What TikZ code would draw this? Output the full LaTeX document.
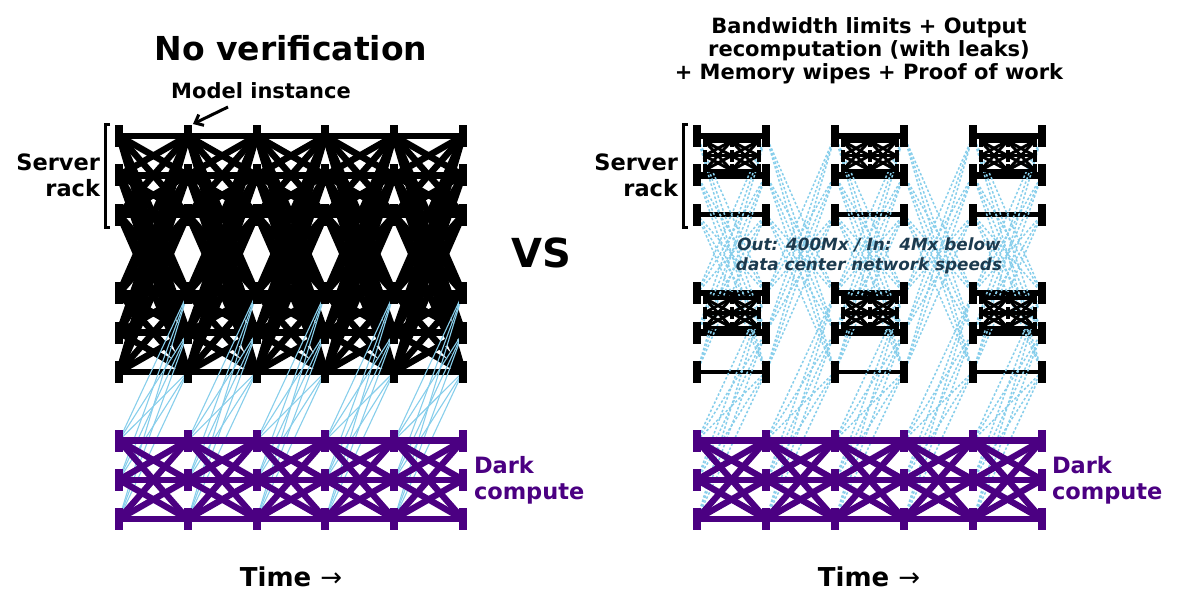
\documentclass[tikz,border=0pt]{standalone}
\usepackage{fontspec}
\setmainfont{DejaVu Sans}
\usetikzlibrary{arrows.meta}
\definecolor{pur}{HTML}{4B0082}
\definecolor{sky}{HTML}{87CEEB}
\definecolor{slate}{HTML}{1C3A4E}
\pgfdeclarelayer{lblack}
\pgfdeclarelayer{lblue}
\pgfdeclarelayer{lmini}
\pgfdeclarelayer{lpurple}
\pgfsetlayers{lblack,lblue,lmini,lpurple,main}
\begin{document}
\begin{tikzpicture}[x=1pt,y=-1pt,
  bar/.style={fill=black,inner sep=0pt,outer sep=0pt,minimum width=8pt,minimum height=22pt},
  pbar/.style={bar,fill=pur},
  mbar/.style={fill=black,inner sep=0pt,outer sep=0pt,minimum width=4pt,minimum height=12pt},
  blkline/.style={line width=6.5pt,black},
  purline/.style={line width=6.3pt,pur},
  thickh/.style={line width=6.5pt,black},
  midh/.style={line width=4.5pt,black},
  minih/.style={line width=3.5pt,black},
  minid/.style={line width=3pt,black},
  leak/.style={line width=1.1pt,sky},
  leakd/.style={line width=1.5pt,sky,dash pattern=on 2.5pt off 2pt},
  bracket/.style={line width=3pt,black},
  lbl/.style={inner sep=0pt,outer sep=0pt},
]
\useasboundingbox (0,0) rectangle (1179,605);

% nodes (bars)
\foreach \i in {0,...,5}{
  \foreach \y [count=\j] in {136,175.3,214.6,293.2,332.5,371.8}{
    \node[bar] (L\i-\j) at ({119+68.8*\i},\y) {};
    \node[bar] (R\i-\j) at ({697+69*\i},\y) {};
  }
  \foreach \y [count=\j] in {440.5,479.8,519.1}{
    \node[pbar] (LP\i-\j) at ({119+68.8*\i},\y) {};
    \node[pbar] (RP\i-\j) at ({697+69*\i},\y) {};
  }
}
% mini networks inside the right boxes
\foreach \b in {0,1,2}{
  \foreach \k/\base in {0/136,1/293.2}{
    \foreach \s/\dx in {0/7.5,1/34.5,2/61.5}{
      \foreach \m/\dy in {1/5,2/19.65,3/34.3}{
        \node[mbar] (M\b-\k-\s-\m) at ({697+138*\b+\dx},{\base+\dy}) {};
      }
    }
  }
}

% black connections
\begin{pgfonlayer}{lblack}
\foreach \i in {0,...,4}{
  \pgfmathtruncatemacro\k{\i+1}
  \foreach \a in {1,...,6}{\foreach \c in {1,...,6}{
    \draw[blkline] (L\i-\a.center) -- (L\k-\c.center);}}
}
\foreach \b in {0,1,2}{
  \pgfmathtruncatemacro\A{2*\b}
  \pgfmathtruncatemacro\B{2*\b+1}
  \foreach \r in {1,2,4,5}{\draw[thickh] (R\A-\r.center) -- (R\B-\r.center);}
  \foreach \r in {3,6}{\draw[midh] (R\A-\r.center) -- (R\B-\r.center);}
}
\end{pgfonlayer}

\begin{pgfonlayer}{lmini}
\foreach \b in {0,1,2}{
  \foreach \k in {0,1}{
    \foreach \m in {1,2,3}{\draw[minih] (M\b-\k-0-\m.center) -- (M\b-\k-2-\m.center);}
    \foreach \s in {0,1}{
      \pgfmathtruncatemacro\t{\s+1}
      \foreach \m in {1,2,3}{\foreach \n in {1,2,3}{
        \ifnum\m=\n\else\draw[minid] (M\b-\k-\s-\m.center) -- (M\b-\k-\t-\n.center);\fi
      }}
    }
  }
}
\end{pgfonlayer}

% leaks
\begin{pgfonlayer}{lblue}
\foreach \i in {0,...,4}{
  \pgfmathtruncatemacro\k{\i+1}
  \foreach \p in {1,2,3}{\foreach \c in {4,5,6}{
    \draw[leak] (LP\i-\p.center) -- (L\k-\c.center);
    \draw[leakd] (RP\i-\p.center) -- (R\k-\c.center);}}
  \foreach \a in {1,2,3}{\foreach \c in {4,5,6}{
    \draw[leakd] (R\i-\a.center) -- (R\k-\c.center);
    \draw[leakd] (R\i-\c.center) -- (R\k-\a.center);}}
}
\end{pgfonlayer}

% dark compute connections
\begin{pgfonlayer}{lpurple}
\foreach \i in {0,...,4}{
  \pgfmathtruncatemacro\k{\i+1}
  \foreach \a in {1,2,3}{\foreach \c in {1,2,3}{
    \draw[purline] (LP\i-\a.center) -- (LP\k-\c.center);
    \draw[purline] (RP\i-\a.center) -- (RP\k-\c.center);}}
}
\end{pgfonlayer}

% texts
\node[lbl,font=\fontsize{33}{40}\selectfont\bfseries] (t1) at (291,48) {No verification};
\node[lbl,font=\fontsize{21}{25}\selectfont\bfseries] (mi) at (261,91) {Model instance};
\coordinate (arS) at (228,107);
\coordinate (arE) at (193,124);
\draw[line width=3pt,-{Straight Barb[length=7pt,width=12pt]}] (arS) -- (arE);

\node[lbl,font=\fontsize{22.5}{26}\selectfont\bfseries,align=right,anchor=east] (sr1) at (100,175) {Server\\rack};
\coordinate (br1t) at (110,124);
\coordinate (br1b) at (110,227);
\draw[bracket] (br1t) -- ++(-5,0) |- (br1b);

\node[lbl,font=\fontsize{22.5}{26}\selectfont\bfseries,align=right,anchor=east] (sr2) at (678,175) {Server\\rack};
\coordinate (br2t) at (688,124);
\coordinate (br2b) at (688,227);
\draw[bracket] (br2t) -- ++(-5,0) |- (br2b);

\node[lbl,font=\fontsize{40}{48}\selectfont\bfseries] (vs) at (541,253) {VS};

\node[lbl,align=center,font=\fontsize{21}{23}\selectfont\bfseries] (t2) at (869,51) {Bandwidth limits + Output\\recomputation (with leaks)\\+ Memory wipes + Proof of work};

\node[lbl,align=center,text=slate,font=\fontsize{16.8}{20}\selectfont\bfseries\itshape] (bw) at (869,256) {Out: 400Mx / In: 4Mx below\\data center network speeds};

\node[lbl,align=left,anchor=west,text=pur,font=\fontsize{22.5}{26}\selectfont\bfseries] (dc1) at (474,480) {Dark\\compute};
\node[lbl,align=left,anchor=west,text=pur,font=\fontsize{22.5}{26}\selectfont\bfseries] (dc2) at (1052,480) {Dark\\compute};

\node[lbl,font=\fontsize{26}{30}\selectfont\bfseries] (tm1) at (291,577) {Time {\mdseries →}};
\node[lbl,font=\fontsize{26}{30}\selectfont\bfseries] (tm2) at (869,577) {Time {\mdseries →}};
\end{tikzpicture}
\end{document}
